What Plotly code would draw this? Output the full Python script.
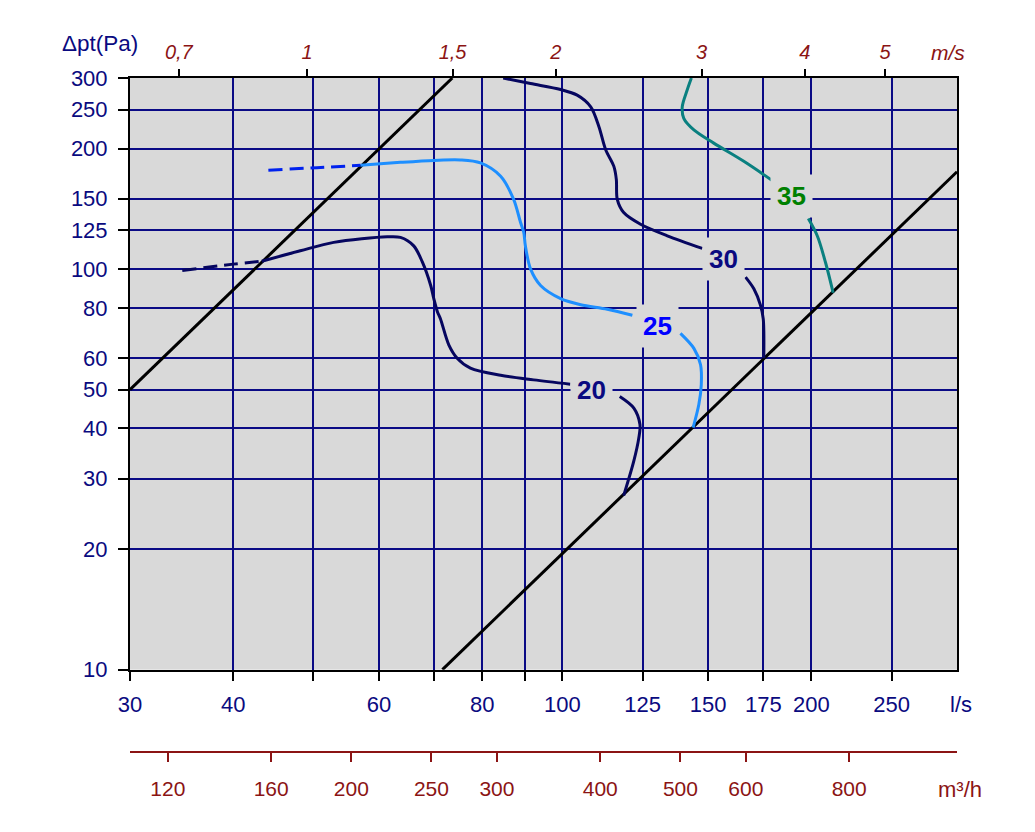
import math
import plotly.graph_objects as go

# ---------------- data ----------------
flow_ticks = [30, 40, 50, 60, 70, 80, 90, 100, 125, 150, 175, 200, 250]
flow_ticktext = ["30", "40", "", "60", "", "80", "", "100", "125", "150", "175", "200", "250"]
dp_ticks = [10, 20, 30, 40, 50, 60, 80, 100, 125, 150, 200, 250, 300]
dp_ticktext = [str(v) for v in dp_ticks]
ms_ticks = [0.7, 1, 1.5, 2, 3, 4, 5]
ms_ticktext = ["0,7", "1", "1,5", "2", "3", "4", "5"]
m3h_ticks = [120, 160, 200, 250, 300, 400, 500, 600, 800]
m3h_ticktext = [str(v) for v in m3h_ticks]
LPS_PER_MS = 49.1   # l/s per 1 m/s (duct cross-section)

# system (duct) lines
sys1_q = [30, 73.6]
sys1_p = [50, 300]
sys2_q = [71.6, 300]
sys2_p = [10, 175]

# sound level curves (None = gap where the label sits)
c20_dash_q = [34.7, 40.0, 43.3]
c20_dash_p = [99.2, 102.9, 104.6]
c20_q = [43.3, 48.2, 52.9, 61.4, 63.7, 66.1, 67.7, 69.3, 69.9, 70.6, 71.2, 72.9, 74.6, 77.4, 84.2, 92.3, 102.2,
         None, 117.3, 122.0, 124.1, 123.7, 122.0, 118.6]
c20_p = [104.6, 111.1, 116.6, 120.4, 120.0, 114.3, 104.2, 91.0, 84.4, 78.3, 75.2, 64.6, 59.9, 56.6, 54.3, 52.9, 51.6,
         None, 48.1, 45.0, 40.9, 37.9, 33.2, 27.2]

c25_dash_q = [44.1, 50.5, 57.0]
c25_dash_p = [176.5, 179.2, 181.6]
c25_q = [57.0, 63.7, 69.9, 75.3, 79.6, 84.2, 87.3, 89.0, 89.8, 90.2, 91.5, 94.1, 99.5, 105.2, 113.3, 121.5,
         None, 138.9, 144.2, 146.9, 147.2, 146.2, 143.9]
c25_p = [181.6, 184.7, 186.8, 187.3, 184.1, 170.5, 149.3, 130.7, 123.4, 114.3, 100.1, 91.0, 84.4, 81.5, 79.4, 76.7,
         None, 69.1, 63.4, 57.7, 51.4, 45.9, 40.2]

c30_q = [84.8, 91.5, 99.5, 104.2, 108.2, 110.7, 112.8, 115.4, 116.2, 116.5, 118.6, 124.3, 133.9, 147.6,
         None, 166.5, 170.4, 173.6, 174.9, 175.2, 175.2]
c30_p = [300, 290.6, 280.8, 271.8, 254.2, 226.8, 198.6, 180.5, 167.3, 149.3, 138.4, 129.4, 121.1, 112.7,
         None, 95.5, 89.3, 81.2, 75.2, 69.8, 59.9]

c35_q = [143.2, 141.5, 139.6, 140.2, 144.2, 152.4, 165.7, 179.9, None, 198.3, 203.3, 208.0, 212.5]
c35_p = [300, 279.6, 254.2, 237.9, 222.6, 206.3, 185.8, 165.7, None, 133.7, 121.1, 104.0, 87.3]

labels = ["20", "25", "30", "35"]
label_q = [108.3, 130.2, 156.7, 189.4]
label_p = [50.0, 72.0, 106.0, 152.1]

# ---------------- style ----------------
NAVY = "#0A0A80"
GRID = "#0A0A85"
CURVE_NAVY = "#06065F"
DARKRED = "#8B1414"
BG = "#D9D9D9"
FONT = "Arial, Liberation Sans, sans-serif"
label_colors = ["#0A0A80", "#0000FF", "#0A0A80", "#008000"]

L, R, T, BOT = 130, 957, 78, 812   # pixel geometry of paper
W, H = R - L, BOT - T


def px(x):
    return (x - L) / W


def py(y):
    return (BOT - y) / H


XR = [math.log10(30), math.log10(300)]
YR = [1, math.log10(300)]

fig = go.Figure()


def line(q, p, color, width=3, dash=None, smooth=True):
    ln = dict(color=color, width=width, dash=dash)
    if smooth:
        ln.update(shape="spline", smoothing=0.9)
    fig.add_trace(go.Scatter(x=q, y=p, mode="lines", line=ln,
                             showlegend=False, hoverinfo="skip"))


line(sys1_q, sys1_p, "black", 3, smooth=False)
line(sys2_q, sys2_p, "black", 3, smooth=False)
line(c20_dash_q, c20_dash_p, CURVE_NAVY, 3, "14px,7px")
line(c20_q, c20_p, CURVE_NAVY, 3)
line(c25_dash_q, c25_dash_p, "#0022EE", 3, "14px,7px")
line(c25_q, c25_p, "#1E8FFF", 3)
line(c30_q, c30_p, CURVE_NAVY, 3)
line(c35_q, c35_p, "#0A8080", 3)

# invisible helpers so the secondary axes are drawn
fig.add_trace(go.Scatter(x=[v * LPS_PER_MS for v in ms_ticks], y=[None] * len(ms_ticks),
                         xaxis="x2", yaxis="y", mode="markers", showlegend=False, hoverinfo="skip"))
fig.add_trace(go.Scatter(x=[v / 3.6 for v in m3h_ticks], y=[None] * len(m3h_ticks),
                         xaxis="x3", yaxis="y", mode="markers", showlegend=False, hoverinfo="skip"))

annotations = []
for txt, q, p, c in zip(labels, label_q, label_p, label_colors):
    annotations.append(dict(x=math.log10(q), y=math.log10(p), xref="x", yref="y",
                            text=f"<b>{txt}</b>", showarrow=False,
                            font=dict(family=FONT, size=26, color=c),
                            bgcolor=BG, borderpad=6))


def paper_text(x, y, text, size, color):
    return dict(x=px(x), y=py(y), xref="paper", yref="paper", text=text, showarrow=False,
                xanchor="center", yanchor="middle",
                font=dict(family=FONT, size=size, color=color))


annotations += [
    paper_text(100, 43, "\u0394pt(Pa)", 22.5, NAVY),
    paper_text(948, 52, "<i>m/s</i>", 21, DARKRED),
    paper_text(961, 709, "l/s", 22, NAVY),
    paper_text(960, 794, "m\u00b3/h", 22, DARKRED),
]

fig.update_layout(
    width=1035, height=832,
    margin=dict(l=L, r=1035 - R, t=T, b=832 - BOT),
    paper_bgcolor="white", plot_bgcolor=BG,
    font=dict(family=FONT),
    xaxis=dict(type="log", range=XR, domain=[0, 1], anchor="y",
               tickmode="array", tickvals=flow_ticks, ticktext=flow_ticktext,
               showgrid=True, gridcolor=GRID, gridwidth=1.8,
               showline=True, linecolor="black", linewidth=2, mirror=True,
               ticks="outside", ticklen=9, tickwidth=1.5, tickcolor="black",
               tickfont=dict(family=FONT, size=22, color=NAVY), ticklabelstandoff=5,
               zeroline=False),
    xaxis2=dict(type="log", range=XR, overlaying="x", side="top", anchor="y",
                tickmode="array", tickvals=[v * LPS_PER_MS for v in ms_ticks],
                ticktext=[f"<i>{t}</i>" for t in ms_ticktext],
                showgrid=False, showline=False,
                ticks="outside", ticklen=8, tickwidth=1.5, tickcolor="black",
                tickfont=dict(family=FONT, size=20, color=DARKRED), ticklabelstandoff=2),
    xaxis3=dict(type="log", range=XR, overlaying="x", anchor="free", position=py(757),
                domain=[0, 1], side="bottom",
                tickmode="array", tickvals=[v / 3.6 for v in m3h_ticks], ticktext=m3h_ticktext,
                showgrid=False, showline=True, linecolor=DARKRED, linewidth=1.5,
                ticks="outside", ticklen=9, tickwidth=1.5, tickcolor=DARKRED,
                tickfont=dict(family=FONT, size=21, color=DARKRED), ticklabelstandoff=9),
    yaxis=dict(type="log", range=YR, domain=[py(673.7), 1],
               tickmode="array", tickvals=dp_ticks, ticktext=dp_ticktext,
               showgrid=True, gridcolor=GRID, gridwidth=1.8,
               showline=True, linecolor="black", linewidth=2, mirror=True,
               ticks="outside", ticklen=10, tickwidth=1.5, tickcolor="black",
               tickfont=dict(family=FONT, size=22, color=NAVY), ticklabelstandoff=6,
               zeroline=False),
    annotations=annotations,
    showlegend=False,
)

fig.write_html("out.html")
